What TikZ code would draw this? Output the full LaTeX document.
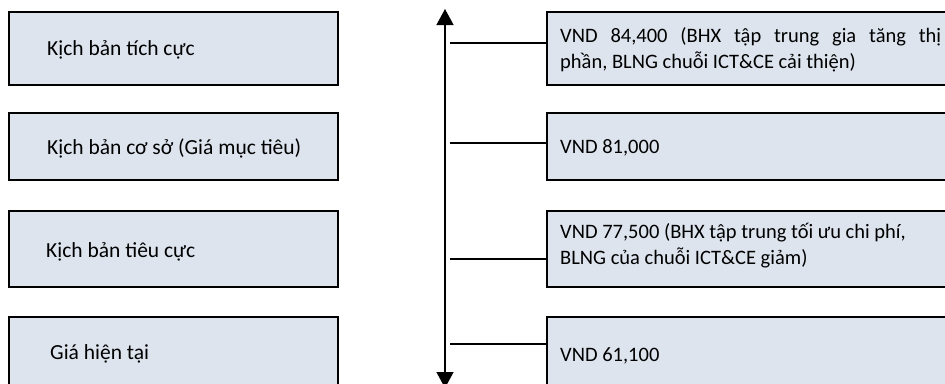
\documentclass[tikz,border=0pt]{standalone}
\usepackage{fontspec}
\setmainfont{Carlito}
\usetikzlibrary{arrows.meta}
\definecolor{boxfill}{HTML}{DDE4EE}
\begin{document}
\begin{tikzpicture}[x=1pt,y=-1pt,
  box/.style={draw=black, line width=2pt, fill=boxfill, rectangle, inner sep=0pt},
  lbl/.style={font=\fontsize{21.5}{26}\selectfont, text=black, anchor=west, align=left, inner sep=0pt},
  rlbl/.style={lbl, font=\fontsize{20.5}{26}\selectfont},
  conn/.style={line width=2pt},
  axisline/.style={line width=1.3pt, {Triangle[width=17pt,length=16pt]}-{Triangle[width=17pt,length=16pt]}}
]
\useasboundingbox (0,0) rectangle (945,383);
\clip (0,0) rectangle (945,383);

% left boxes
\node[box, minimum width=329pt, minimum height=73pt] (L1) at (173.5,48.5) {};
\node[box, minimum width=329pt, minimum height=67pt] (L2) at (173.5,146.5) {};
\node[box, minimum width=329pt, minimum height=76pt] (L3) at (173.5,249) {};
\node[box, minimum width=329pt, minimum height=83pt] (L4) at (173.5,358.5) {};

% right boxes
\node[box, minimum width=413pt, minimum height=73pt] (R1) at (753.5,48.5) {};
\node[box, minimum width=413pt, minimum height=67pt] (R2) at (753.5,146.5) {};
\node[box, minimum width=413pt, minimum height=76pt] (R3) at (753.5,249) {};
\node[box, minimum width=413pt, minimum height=83pt] (R4) at (753.5,358.5) {};

% left texts
\node[lbl] (tL1) at (47,50) {Kịch bản tích cực};
\node[lbl] (tL2) at (47,148) {Kịch bản cơ sở (Giá mục tiêu)};
\node[lbl] (tL3) at (46,252) {Kịch bản tiêu cực};
\node[lbl] (tL4) at (50,354) {Giá hiện tại};

% right texts
\node[rlbl] (tR1) at (560,50) {\makebox[381pt][s]{VND 84,400 (BHX tập trung gia tăng thị}\\phần, BLNG chuỗi ICT\&CE cải thiện)};
\node[rlbl] (tR2) at (560,148) {VND 81,000};
\node[rlbl] (tR3) at (560,246) {VND 77,500 (BHX tập trung tối ưu chi phí,\\BLNG của chuỗi ICT\&CE giảm)};
\node[rlbl] (tR4) at (560,356) {VND 61,100};

% axis
\coordinate (top) at (445,9);
\coordinate (bot) at (445,388);
\draw[axisline] (bot) -- (top);

% connectors
\coordinate (a1) at (450,43);
\coordinate (a2) at (450,143);
\coordinate (a3) at (450,259);
\coordinate (a4) at (450,344);
\draw[conn] (a1) -- (a1 -| R1.west);
\draw[conn] (a2) -- (a2 -| R2.west);
\draw[conn] (a3) -- (a3 -| R3.west);
\draw[conn] (a4) -- (a4 -| R4.west);
\end{tikzpicture}
\end{document}
